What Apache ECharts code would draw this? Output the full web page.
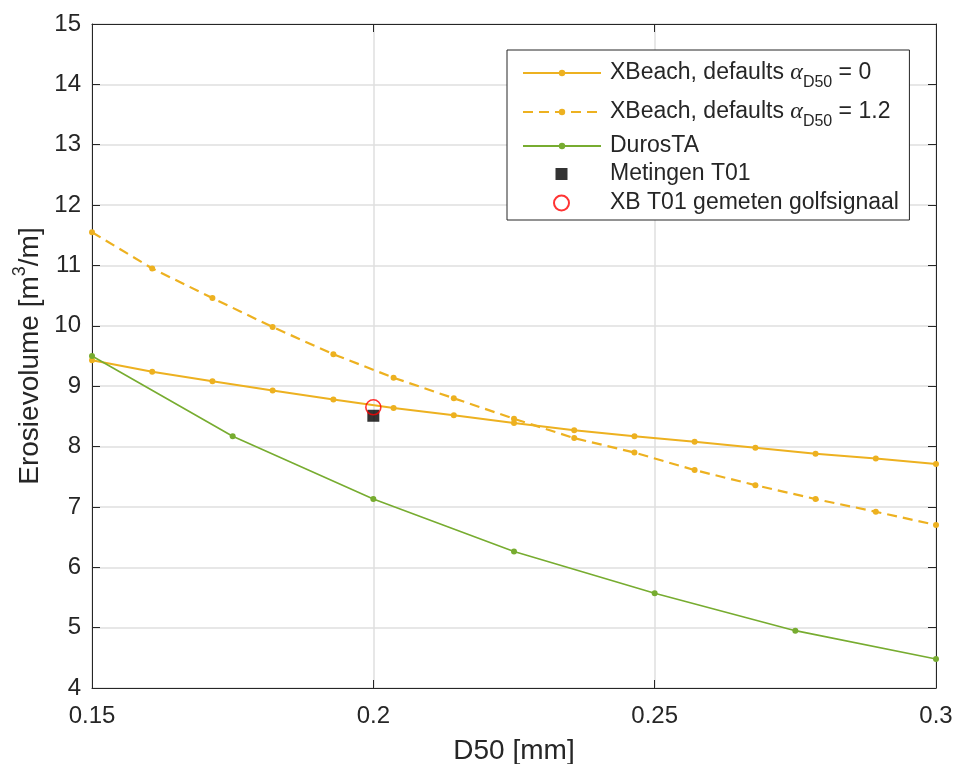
<!DOCTYPE html>
<html>
<head>
<meta charset="utf-8">
<script src="https://cdn.jsdelivr.net/npm/echarts@6/dist/echarts.min.js"></script>
<style>
html, body { margin: 0; padding: 0; background: #ffffff; }
#chart { width: 954px; height: 764px; }
</style>
</head>
<body>
<div id="chart"></div>
<script>
// Axis ticks
const xTicks = [0.15, 0.2, 0.25, 0.3];
const yTicks = [4, 5, 6, 7, 8, 9, 10, 11, 12, 13, 14, 15];

// XBeach model runs (D50 in mm, erosion volume in m3/m)
const d50Model = [0.15, 0.1607, 0.1714, 0.1821, 0.1929, 0.2036, 0.2143, 0.225,
                  0.2357, 0.2464, 0.2571, 0.2679, 0.2786, 0.2893, 0.3];
const xbAlpha0 = [9.43, 9.24, 9.08, 8.93, 8.78, 8.64, 8.52, 8.39,
                  8.27, 8.17, 8.08, 7.98, 7.88, 7.80, 7.71];
const xbAlpha12 = [11.55, 10.95, 10.46, 9.98, 9.53, 9.14, 8.80, 8.46,
                   8.14, 7.90, 7.61, 7.36, 7.13, 6.92, 6.70];

// DurosTA
const d50Duros = [0.15, 0.175, 0.2, 0.225, 0.25, 0.275, 0.3];
const durosTA = [9.50, 8.17, 7.13, 6.26, 5.57, 4.95, 4.48];

// Measurement T01 and XBeach run with measured wave signal
const d50Meting = [0.2];
const metingT01 = [8.51];
const d50Signal = [0.2];
const xbSignal = [8.65];

const FONT = 'Liberation Sans';
const INK = '#262626';
const ORANGE = '#EDB120';
const GREEN = '#77AC30';
const LEGEND_FS = 23;

function pairs(xs, ys) { return xs.map((x, i) => [x, ys[i]]); }

const names = {
  a0: 'XBeach, defaults α0',
  a12: 'XBeach, defaults α12',
  duros: 'DurosTA',
  meting: 'Metingen T01',
  signal: 'XB T01 gemeten golfsignaal'
};

const legendRich = {
  txt: { fontSize: LEGEND_FS, fontFamily: FONT, color: INK, lineHeight: 36 },
  alpha: { fontSize: 24, fontFamily: 'Liberation Serif', fontStyle: 'italic', color: INK, lineHeight: 36 },
  sub: { fontSize: 16, fontFamily: FONT, color: INK, lineHeight: 16, padding: [20, 0, 0, 0] }
};

function legendLabel(name) {
  if (name === names.a0) return '{txt|XBeach, defaults }{alpha|α}{sub|D50}{txt| = 0}';
  if (name === names.a12) return '{txt|XBeach, defaults }{alpha|α}{sub|D50}{txt| = 1.2}';
  return name;
}

const axisCommon = {
  type: 'value',
  axisLine: { show: true, onZero: false, lineStyle: { color: INK, width: 1 } },
  axisTick: { show: true, inside: true, length: 8, lineStyle: { color: INK, width: 1 } },
  splitLine: { show: false }
};

const option = {
  backgroundColor: '#ffffff',
  animation: false,
  grid: { left: 92, right: 18, top: 24, bottom: 76, containLabel: false, outerBoundsMode: 'none' },
  xAxis: [
    Object.assign({}, axisCommon, {
      position: 'bottom',
      min: xTicks[0], max: xTicks[xTicks.length - 1], interval: 0.05,
      axisLabel: {
        margin: 16, fontSize: 24, fontFamily: FONT, color: INK,
        formatter: v => { const t = xTicks.find(k => Math.abs(k - v) < 1e-9); return t === undefined ? '' : String(t); }
      },
      splitLine: { show: true, lineStyle: { color: '#dfdfdf', width: 1.5 } },
      name: 'D50 [mm]', nameLocation: 'middle', nameGap: 49,
      nameTextStyle: { fontSize: 28, fontFamily: FONT, color: INK }
    }),
    Object.assign({}, axisCommon, {
      position: 'top',
      min: xTicks[0], max: xTicks[xTicks.length - 1], interval: 0.05,
      axisLabel: { show: false }
    })
  ],
  yAxis: [
    Object.assign({}, axisCommon, {
      position: 'left',
      min: yTicks[0], max: yTicks[yTicks.length - 1], interval: 1,
      axisLabel: { margin: 11, fontSize: 24, fontFamily: FONT, color: INK },
      splitLine: { show: true, lineStyle: { color: '#dfdfdf', width: 1.5 } },
      name: '{n|Erosievolume [m}{sup|3}{n|/m]}', nameLocation: 'middle', nameGap: 43,
      nameMoveOverlap: false,
      nameTextStyle: {
        color: INK,
        rich: {
          n: { fontSize: 28, fontFamily: FONT, color: INK, lineHeight: 38 },
          sup: { fontSize: 18, fontFamily: FONT, color: INK, lineHeight: 18, padding: [0, 0, 20, 0] }
        }
      }
    }),
    Object.assign({}, axisCommon, {
      position: 'right',
      min: yTicks[0], max: yTicks[yTicks.length - 1], interval: 1,
      axisLabel: { show: false }
    })
  ],
  legend: [
    {
      data: [names.a0, names.a12, names.duros],
      orient: 'vertical',
      left: 507, top: 50,
      padding: [5, 19, 61, 15],
      itemGap: 3,
      itemWidth: 78, itemHeight: 8,
      backgroundColor: '#ffffff',
      borderColor: INK, borderWidth: 1, borderRadius: 0,
      selectedMode: false,
      formatter: legendLabel,
      textStyle: { fontSize: LEGEND_FS, fontFamily: FONT, color: INK, lineHeight: 26, padding: [0, 0, 0, 4], rich: legendRich }
    },
    {
      data: [
        // square glyph padded inside a 15x15 frame so it keeps its own size
        { name: names.meting, icon: 'path://M0,0M15,15M1.5,1.5h12v12h-12z' },
        { name: names.signal, icon: 'circle' }
      ],
      orient: 'vertical',
      left: 507, top: 161,
      padding: [0, 10, 0, 46],
      itemGap: 3,
      itemWidth: 15, itemHeight: 15,
      selectedMode: false,
      textStyle: { fontSize: LEGEND_FS, fontFamily: FONT, color: INK, lineHeight: 26, padding: [0, 0, 0, 36] }
    }
  ],
  series: [
    {
      name: names.a0, type: 'line', data: pairs(d50Model, xbAlpha0),
      symbol: 'circle', symbolSize: 6, showSymbol: true,
      lineStyle: { color: ORANGE, width: 2 }, itemStyle: { color: ORANGE }, z: 3
    },
    {
      name: names.a12, type: 'line', data: pairs(d50Model, xbAlpha12),
      symbol: 'circle', symbolSize: 6, showSymbol: true,
      lineStyle: { color: ORANGE, width: 2.2, type: [10, 6] }, itemStyle: { color: ORANGE }, z: 3
    },
    {
      name: names.duros, type: 'line', data: pairs(d50Duros, durosTA),
      symbol: 'circle', symbolSize: 6, showSymbol: true,
      lineStyle: { color: GREEN, width: 1.6 }, itemStyle: { color: GREEN }, z: 4
    },
    {
      name: names.meting, type: 'scatter', data: pairs(d50Meting, metingT01),
      symbol: 'rect', symbolSize: 12,
      itemStyle: { color: '#000000' }, z: 5
    },
    {
      name: names.signal, type: 'scatter', data: pairs(d50Signal, xbSignal),
      symbol: 'circle', symbolSize: 15,
      itemStyle: { color: 'rgba(255,255,255,0)', borderColor: '#ff0000', borderWidth: 1.6 }, z: 6
    }
  ]
};

const chart = echarts.init(document.getElementById('chart'), null, { renderer: 'canvas' });
chart.setOption(option);
</script>
</body>
</html>
